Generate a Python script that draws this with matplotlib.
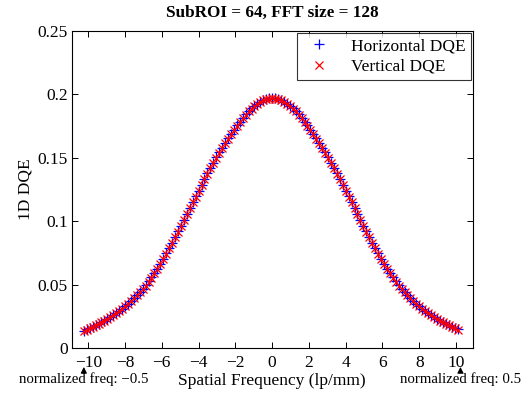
import numpy as np
import matplotlib
matplotlib.use("Agg")
import matplotlib.pyplot as plt

plt.rcParams['font.family'] = ['Liberation Serif', 'DejaVu Serif']
plt.rcParams['axes.unicode_minus'] = True

# sampling grid: 128-point FFT, Nyquist at 10.24 lp/mm
n_fft = 128
pixel_pitch = 1 / 20.48  # mm
freq = np.fft.fftshift(np.fft.fftfreq(n_fft, d=pixel_pitch))

# 1D DQE (from -10.24 to 10.08 lp/mm)
dqe_horizontal = [
    0.0139, 0.0149, 0.0159, 0.0170, 0.0181, 0.0193, 0.0205, 0.0218,
    0.0232, 0.0247, 0.0262, 0.0278, 0.0295, 0.0313, 0.0332, 0.0352,
    0.0373, 0.0395, 0.0418, 0.0442, 0.0468, 0.0496, 0.0526, 0.0558,
    0.0592, 0.0628, 0.0666, 0.0706, 0.0747, 0.0789, 0.0832, 0.0876,
    0.0921, 0.0966, 0.1012, 0.1058, 0.1104, 0.1150, 0.1196, 0.1242,
    0.1288, 0.1333, 0.1377, 0.1420, 0.1462, 0.1503, 0.1542, 0.1580,
    0.1617, 0.1653, 0.1688, 0.1722, 0.1754, 0.1785, 0.1814, 0.1841,
    0.1866, 0.1888, 0.1908, 0.1926, 0.1941, 0.1953, 0.1962, 0.1968,
    0.1970, 0.1968, 0.1962, 0.1953, 0.1941, 0.1926, 0.1908, 0.1888,
    0.1866, 0.1841, 0.1814, 0.1785, 0.1754, 0.1722, 0.1688, 0.1653,
    0.1617, 0.1580, 0.1542, 0.1503, 0.1462, 0.1420, 0.1377, 0.1333,
    0.1288, 0.1242, 0.1196, 0.1150, 0.1104, 0.1058, 0.1012, 0.0966,
    0.0921, 0.0876, 0.0832, 0.0789, 0.0747, 0.0706, 0.0666, 0.0628,
    0.0592, 0.0558, 0.0526, 0.0496, 0.0468, 0.0442, 0.0418, 0.0395,
    0.0373, 0.0352, 0.0332, 0.0313, 0.0295, 0.0278, 0.0262, 0.0247,
    0.0232, 0.0218, 0.0205, 0.0193, 0.0181, 0.0170, 0.0159, 0.0149,
]
dqe_vertical = [
    0.0137, 0.0147, 0.0158, 0.0168, 0.0180, 0.0191, 0.0204, 0.0216,
    0.0230, 0.0245, 0.0260, 0.0276, 0.0293, 0.0311, 0.0330, 0.0350,
    0.0371, 0.0393, 0.0416, 0.0440, 0.0466, 0.0494, 0.0524, 0.0556,
    0.0590, 0.0626, 0.0664, 0.0704, 0.0745, 0.0787, 0.0830, 0.0874,
    0.0919, 0.0964, 0.1010, 0.1056, 0.1102, 0.1148, 0.1194, 0.1240,
    0.1286, 0.1331, 0.1375, 0.1418, 0.1460, 0.1501, 0.1540, 0.1578,
    0.1615, 0.1651, 0.1686, 0.1720, 0.1752, 0.1783, 0.1812, 0.1839,
    0.1864, 0.1886, 0.1906, 0.1924, 0.1939, 0.1951, 0.1960, 0.1966,
    0.1968, 0.1966, 0.1960, 0.1951, 0.1939, 0.1924, 0.1906, 0.1886,
    0.1864, 0.1839, 0.1812, 0.1783, 0.1752, 0.1720, 0.1686, 0.1651,
    0.1615, 0.1578, 0.1540, 0.1501, 0.1460, 0.1418, 0.1375, 0.1331,
    0.1286, 0.1240, 0.1194, 0.1148, 0.1102, 0.1056, 0.1010, 0.0964,
    0.0919, 0.0874, 0.0830, 0.0787, 0.0745, 0.0704, 0.0664, 0.0626,
    0.0590, 0.0556, 0.0524, 0.0494, 0.0466, 0.0440, 0.0416, 0.0393,
    0.0371, 0.0350, 0.0330, 0.0311, 0.0293, 0.0276, 0.0260, 0.0245,
    0.0230, 0.0216, 0.0204, 0.0191, 0.0180, 0.0168, 0.0158, 0.0147,
]

x_ticks = [-10, -8, -6, -4, -2, 0, 2, 4, 6, 8, 10]
y_ticks = [0, 0.05, 0.1, 0.15, 0.2, 0.25]
y_ticklabels = ["0", "0.05", "0.1", "0.15", "0.2", "0.25"]
nyquist = 10.24

fig = plt.figure(figsize=(5.31, 3.96), dpi=100)
ax = fig.add_axes([0.135, 0.1205, 0.755, 0.802])

ax.plot(freq, dqe_horizontal, '+', color='blue', markersize=7, markeredgewidth=0.9,
        label='Horizontal DQE')
ax.plot(freq, dqe_vertical, 'x', color='red', markersize=6, markeredgewidth=0.9,
        label='Vertical DQE')

ax.set_xlim(-10.9, 10.9)
ax.set_ylim(0, 0.25)
ax.set_xticks(x_ticks)
ax.set_yticks(y_ticks)
ax.set_yticklabels(y_ticklabels)
ax.tick_params(direction='in', top=True, right=True, length=4, width=0.7,
               labelsize=12.5)
ax.tick_params(axis='x', pad=5)
ax.tick_params(axis='y', pad=3)
for s in ax.spines.values():
    s.set_linewidth(0.8)

ax.set_title('SubROI = 64, FFT size = 128', fontsize=12.3, fontweight='bold', pad=10)
ax.set_xlabel('Spatial Frequency (lp/mm)', fontsize=12.5, labelpad=1)
ax.set_ylabel('1D DQE', fontsize=12.5, labelpad=3)

leg = ax.legend(loc='upper right', fontsize=12.5, frameon=True, fancybox=False,
                edgecolor='black', borderaxespad=0.12, handlelength=2.0,
                handletextpad=0.8, borderpad=0.3, labelspacing=0.25)
leg.get_frame().set_linewidth(0.8)

# Nyquist markers below the axis
trans = ax.get_xaxis_transform()
for f, txt in [(-nyquist, 'normalized freq: \u22120.5'), (nyquist, 'normalized freq: 0.5')]:
    ax.annotate('', xy=(f, -0.05), xytext=(f, -0.076), xycoords=trans, textcoords=trans,
                arrowprops=dict(arrowstyle='-|>', color='black', lw=0.8,
                                mutation_scale=9), annotation_clip=False)
    ax.text(f, -0.074, txt, transform=trans, ha='center', va='top', fontsize=10.7)

fig.savefig('out.png', dpi=100)
